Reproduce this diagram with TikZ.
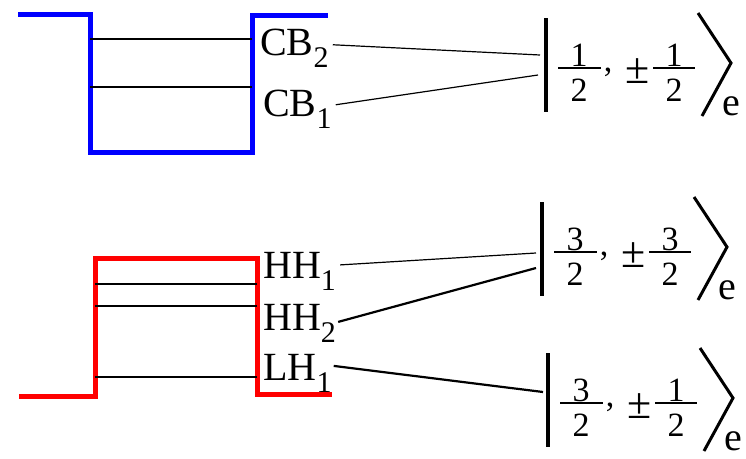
\documentclass[tikz,border=0pt]{standalone}
\usepackage{fontspec}
\newfontfamily\tnr{Liberation Serif}
\tikzset{
  well/.style={line width=5pt, line join=miter},
  level/.style={line width=1.2pt},
  conn/.style={line width=1.2pt},
  thickconn/.style={line width=2.2pt},
  lbl/.style={anchor=base west, inner sep=0pt, font=\tnr\fontsize{40}{40}\selectfont},
  dig/.style={inner sep=0pt, font=\tnr\fontsize{34}{34}\selectfont},
  pmsign/.style={inner sep=0pt, font=\tnr\fontsize{44}{44}\selectfont},
  esub/.style={inner sep=0pt, font=\tnr\fontsize{40}{40}\selectfont},
  ketbar/.style={line width=4pt},
  fracline/.style={line width=2pt},
  ketangle/.style={line width=3pt, line join=miter},
}
\newcommand\lsub[1]{\raisebox{-0.3em}{\tnr\fontsize{30}{30}\selectfont #1}}
\newcommand\myket[4]{%
  \begin{scope}[shift={#2}]
    \draw[ketbar] (0,-50) -- (0,44);
    \draw[fracline] (12,0) -- (55,0);
    \node[dig] (#1n1) at (33,-13) {#3};
    \node[dig] (#1d1) at (33,22) {2};
    \node[dig] (#1c) at (62,4) {,};
    \node[pmsign] (#1pm) at (92,3) {±};
    \draw[fracline] (107,0) -- (149,0);
    \node[dig] (#1n2) at (128,-13) {#4};
    \node[dig] (#1d2) at (128,22) {2};
    \draw[ketangle] (152,-55) -- (185,-5) -- (156,48);
    \node[esub] (#1e) at (185,38) {e};
  \end{scope}}
\begin{document}
\begin{tikzpicture}[x=1pt, y=-1pt]
  \useasboundingbox (0,0) rectangle (746,458);
  % blue well
  \draw[well, blue] (18,14) -- (90,14) -- (90,152) -- (252,152) -- (252,15) -- (328,15);
  \draw[level] (90,39) -- (252,39);
  \draw[level] (90,87) -- (252,87);
  % red well
  \draw[well, red] (19,396) -- (95,396) -- (95,258) -- (257,258) -- (257,394) -- (332,394);
  \draw[level] (95,284) -- (257,284);
  \draw[level] (95,306) -- (257,306);
  \draw[level] (95,377) -- (257,377);
  % labels
  \node[lbl] (cb2) at (260,55) {CB\lsub{2}};
  \node[lbl] (cb1) at (263,116) {CB\lsub{1}};
  \node[lbl] (hh1) at (263,278) {HH\lsub{1}};
  \node[lbl] (hh2) at (263,330) {HH\lsub{2}};
  \node[lbl] (lh1) at (263,380) {LH\lsub{1}};
  % kets
  \myket{ka}{(546,68)}{1}{1}
  \myket{kb}{(542,252)}{3}{3}
  \myket{kc}{(548,403)}{3}{1}
  % connector ends
  \coordinate (ea) at (540,55);
  \coordinate (eb) at (538,75);
  \coordinate (ec) at (536,253);
  \coordinate (ed) at (536,268);
  \coordinate (ee) at (543,392);
  \draw[conn] (cb2.east) ++(4,-3) -- (ea);
  \draw[conn] (cb1.east) ++(4,-4) -- (eb);
  \draw[conn] (hh1.east) ++(4,-6) -- (ec);
  \draw[thickconn] (hh2.east) ++(2,-1) -- (ed);
  \draw[thickconn] (lh1.east) ++(2,-7) -- (ee);
\end{tikzpicture}
\end{document}
